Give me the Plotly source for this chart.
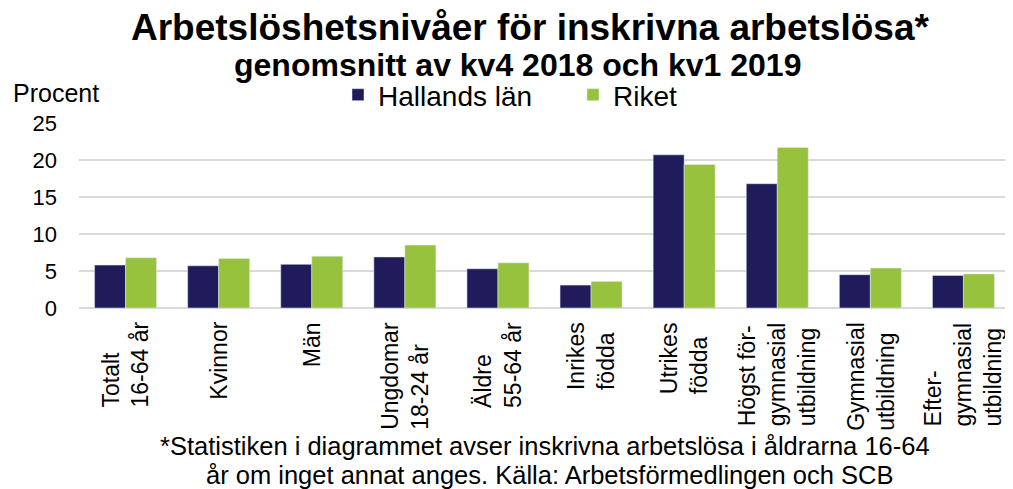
import plotly.graph_objects as go

categories = [
    "Totalt", "Kvinnor", "Män", "Ungdomar", "Äldre",
    "Inrikes", "Utrikes", "Högst", "Gymnasial", "Efter",
]
tick_labels = [
    "Totalt<br>16-64 år", "Kvinnor", "Män", "Ungdomar<br>18-24 år", "Äldre<br>55-64 år",
    "Inrikes<br>födda", "Utrikes<br>födda", "Högst för-<br>gymnasial<br>utbildning",
    "Gymnasial<br>utbildning", "Efter-<br>gymnasial<br>utbildning",
]
halland = [5.8, 5.7, 5.9, 6.9, 5.3, 3.1, 20.7, 16.8, 4.5, 4.4]
riket = [6.8, 6.7, 7.0, 8.5, 6.1, 3.6, 19.4, 21.7, 5.4, 4.6]
y_ticks = [0, 5, 10, 15, 20, 25]

NAVY = "#201c5c"
GREEN = "#96c23e"
FONT = "Liberation Sans, Arial, sans-serif"

# page body adds an 8px offset; work in figure coordinates
W, H = 1005, 481
l, r, t, b = 71, 3, 115, 181
pw, ph = W - l - r, H - t - b


def px(xp):
    return (xp - 8 - l) / pw


def py(yp):
    return (H - b - (yp - 8)) / ph


fig = go.Figure()
fig.add_trace(go.Bar(name="Hallands län", x=categories, y=halland, marker_color=NAVY))
fig.add_trace(go.Bar(name="Riket", x=categories, y=riket, marker_color=GREEN))

annotations = [
    dict(text="<b>Arbetslöshetsnivåer för inskrivna arbetslösa*</b>",
         x=px(530), y=py(28), font=dict(size=37)),
    dict(text="<b>genomsnitt av kv4 2018 och kv1 2019</b>",
         x=px(517), y=py(65), font=dict(size=32)),
    dict(text="Procent", x=px(11), y=py(93), xanchor="left", font=dict(size=25)),
    dict(text="*Statistiken i diagrammet avser inskrivna arbetslösa i åldrarna 16-64",
         x=px(545), y=py(446), font=dict(size=25.5)),
    dict(text="år om inget annat anges. Källa: Arbetsförmedlingen och SCB",
         x=px(550), y=py(475), font=dict(size=25.5)),
]
for a in annotations:
    a.update(xref="paper", yref="paper", showarrow=False)
    a.setdefault("xanchor", "center")
    a.setdefault("yanchor", "middle")

for cat, lab in zip(categories, tick_labels):
    annotations.append(dict(
        text=lab, x=cat, y=0, xref="x", yref="y", showarrow=False,
        textangle=-90, align="left", xanchor="center", yanchor="top",
        yshift=-12, font=dict(size=23)))

fig.update_layout(
    width=W, height=H,
    margin=dict(l=l, r=r, t=t, b=b, autoexpand=False),
    paper_bgcolor="white", plot_bgcolor="white",
    barmode="group", bargap=0.334, bargroupgap=0,
    font=dict(family=FONT, color="black", size=20),
    showlegend=True,
    legend=dict(orientation="h", x=px(338), xanchor="left", y=py(95), yanchor="middle",
                font=dict(size=28), traceorder="normal", entrywidth=190,
                bgcolor="rgba(0,0,0,0)"),
    xaxis=dict(showticklabels=False, showline=False, ticks="", showgrid=False),
    yaxis=dict(range=[0, 25], tickvals=y_ticks, showgrid=True, gridcolor="#d9d9d9",
               gridwidth=2, zeroline=True, zerolinecolor="#d9d9d9", zerolinewidth=2,
               tickfont=dict(size=22), ticks="", ticklabelstandoff=21),
    annotations=annotations,
)

fig.write_html("out.html")
